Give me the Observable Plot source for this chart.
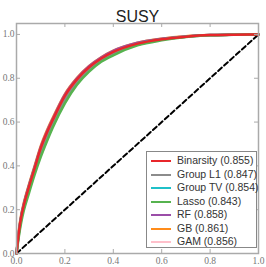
<!DOCTYPE html>
<html><head><meta charset="utf-8">
<script src="https://cdn.jsdelivr.net/npm/d3@7"></script>
<script src="https://cdn.jsdelivr.net/npm/@observablehq/plot@0.6"></script>
<style>
body{margin:0;background:#fff;}
#wrap{position:relative;width:266px;height:267px;}
#legend{position:absolute;left:146px;top:151px;width:109px;height:95px;border:1.5px solid #888;background:#fff;font-family:"Liberation Sans",Arial,sans-serif;font-size:10.5px;color:#333;}
.row{position:absolute;left:0;height:13px;line-height:13px;}
.sw{position:absolute;left:4px;top:6px;width:20px;height:2px;}
.lb{position:absolute;left:30px;top:0;white-space:nowrap;}
</style></head><body>
<div id="wrap"><div id="chart"></div><div id="legend"></div></div>
<script>
const title = "SUSY";
const fpr = [0, 0.01, 0.02, 0.03, 0.05, 0.075, 0.1, 0.125, 0.15, 0.2, 0.25, 0.3, 0.35, 0.4, 0.5, 0.6, 0.7, 0.8, 0.9, 1.0];
const models = ["Binarsity (0.855)", "Group L1 (0.847)", "Group TV (0.854)", "Lasso (0.843)", "RF (0.858)", "GB (0.861)", "GAM (0.856)"];
const colors = ["#e8262b", "#8c8c8c", "#1fc0c8", "#56b34f", "#9b4ea8", "#ff8c1a", "#ffc0cb"];
const tprBinarsity = [0, 0.10, 0.17, 0.22, 0.30, 0.39, 0.48, 0.55, 0.61, 0.72, 0.795, 0.85, 0.89, 0.92, 0.958, 0.978, 0.99, 0.997, 0.999, 1];
const tprGroupL1   = [0, 0.09, 0.16, 0.21, 0.29, 0.375, 0.455, 0.525, 0.59, 0.70, 0.78, 0.84, 0.88, 0.912, 0.953, 0.976, 0.989, 0.996, 0.999, 1];
const tprGroupTV   = [0, 0.10, 0.17, 0.22, 0.30, 0.39, 0.475, 0.545, 0.605, 0.715, 0.79, 0.845, 0.887, 0.918, 0.957, 0.978, 0.99, 0.997, 0.999, 1];
const tprLasso     = [0, 0.08, 0.145, 0.195, 0.27, 0.36, 0.44, 0.51, 0.575, 0.685, 0.77, 0.83, 0.875, 0.905, 0.95, 0.973, 0.988, 0.996, 0.999, 1];
const tprRF        = [0, 0.10, 0.175, 0.225, 0.305, 0.395, 0.485, 0.555, 0.615, 0.725, 0.80, 0.855, 0.895, 0.925, 0.962, 0.98, 0.991, 0.997, 0.999, 1];
const tprGB        = [0, 0.11, 0.18, 0.23, 0.31, 0.40, 0.49, 0.56, 0.62, 0.728, 0.802, 0.856, 0.896, 0.926, 0.962, 0.981, 0.992, 0.997, 0.999, 1];
const tprGAM       = [0, 0.10, 0.172, 0.222, 0.302, 0.392, 0.482, 0.552, 0.612, 0.722, 0.797, 0.851, 0.891, 0.921, 0.959, 0.979, 0.99, 0.997, 0.999, 1];
const xTicks = [0, 0.2, 0.4, 0.6, 0.8, 1.0];
const yTicks = [0, 0.2, 0.4, 0.6, 0.8, 1.0];
const diag = [0, 1];

const series = [tprBinarsity, tprGroupL1, tprGroupTV, tprLasso, tprRF, tprGB, tprGAM];
const rows = [];
series.forEach((s, i) => s.forEach((t, j) => rows.push({model: models[i], fpr: fpr[j], tpr: t})));
// draw Binarsity last so it sits on top
const drawOrder = [6, 5, 4, 2, 1, 3, 0];

const W = 266, H = 267, mL = 16, mR = 8, mT = 23, mB = 14;
const fw = W - mL - mR, fh = H - mT - mB;
const tickFont = "'Liberation Serif', 'DejaVu Serif', serif";

const marks = [
  Plot.line(diag.map(v => ({x: v, y: v})), {x: "x", y: "y", stroke: "#000", strokeWidth: 2, strokeDasharray: "5,3"}),
  ...drawOrder.map(i => Plot.line(rows.filter(r => r.model === models[i]), {x: "fpr", y: "tpr", stroke: colors[i], strokeWidth: 2.5, curve: "monotone-x"})),
  Plot.frame({stroke: "#aaa", strokeWidth: 1.5}),
  Plot.tickX(xTicks, {x: d => d, stroke: "#aaa", insetTop: fh - 4}),
  Plot.tickX(xTicks, {x: d => d, stroke: "#aaa", insetBottom: fh - 4}),
  Plot.tickY(yTicks, {y: d => d, stroke: "#aaa", insetRight: fw - 4}),
  Plot.tickY(yTicks, {y: d => d, stroke: "#aaa", insetLeft: fw - 4}),
  Plot.axisX(xTicks, {tickSize: 0, tickPadding: 4, tickFormat: d3.format(".1f"), fontFamily: tickFont, fontSize: 9.5, color: "#777", label: null}),
  Plot.axisY(yTicks, {tickSize: 0, tickPadding: 2, tickFormat: d3.format(".1f"), fontFamily: tickFont, fontSize: 9.5, color: "#777", label: null}),
  Plot.text([title], {frameAnchor: "top", dy: -13, fontSize: 16, fontFamily: "'Liberation Sans', Arial, sans-serif", fill: "#222"})
];

const chart = Plot.plot({
  width: W, height: H, marginLeft: mL, marginRight: mR, marginTop: mT, marginBottom: mB,
  x: {domain: [0, 1]},
  y: {domain: [0, 1.05]},
  style: {background: "transparent", overflow: "visible"},
  marks
});
document.getElementById("chart").appendChild(chart);

const lg = document.getElementById("legend");
models.forEach((m, i) => {
  const r = document.createElement("div");
  r.className = "row";
  r.style.top = (2 + i * 13.5) + "px";
  r.innerHTML = `<div class="sw" style="background:${colors[i]}"></div><div class="lb">${m}</div>`;
  lg.appendChild(r);
});
</script>
</body></html>
